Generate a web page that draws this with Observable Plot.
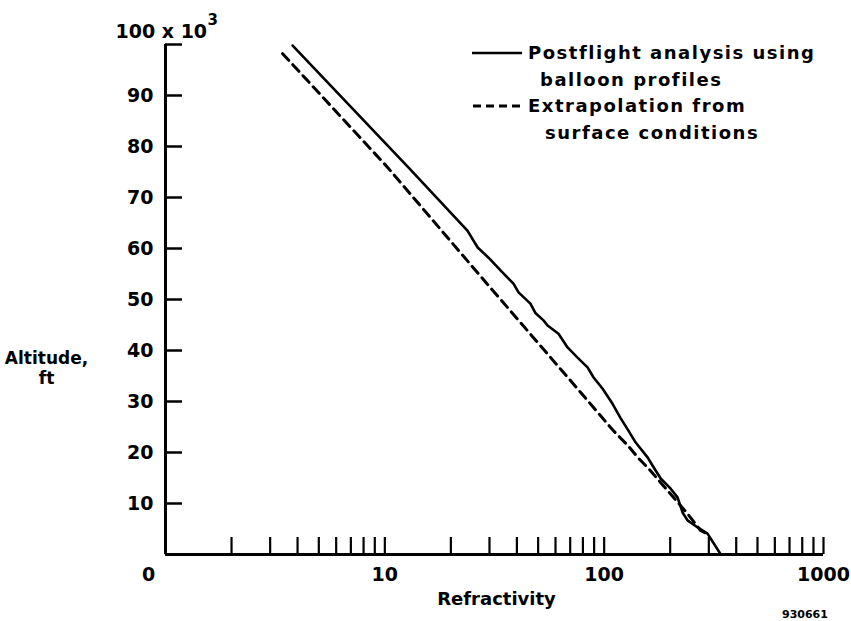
<!DOCTYPE html>
<html>
<head>
<meta charset="utf-8">
<script src="https://cdn.jsdelivr.net/npm/d3@7"></script>
<script src="https://cdn.jsdelivr.net/npm/@observablehq/plot@0.6"></script>
<style>
  html, body { margin: 0; padding: 0; background: #fff; }
  #wrap { position: relative; width: 851px; height: 621px; overflow: hidden; font-family: "DejaVu Sans", sans-serif; font-weight: bold; color: #000; }
  #legend { position: absolute; left: 470px; top: 40px; font-size: 18px; letter-spacing: 1.5px; line-height: 26.5px; }
  #legend .row { display: flex; align-items: center; height: 26.5px; white-space: nowrap; }
  #legend svg { margin-right: 4px; }
  #legend .ind1 { padding-left: 70px; }
  #legend .ind2 { padding-left: 75px; }
  #code { position: absolute; left: 782px; top: 608px; font-size: 11px; }
</style>
</head>
<body>
<div id="wrap"></div>
<script>
// Refractivity (x, log) vs Altitude (x 10^3 ft)
const solidRefractivity = [3.8, 12.8, 23.8, 26.5, 29.7, 33.7, 38.6, 40.7, 46.1, 48.7, 52.9, 55.2, 61.9, 68.1, 75.6, 84.0, 89.5, 98.4, 109, 119, 129, 139, 158, 168, 181, 201, 216, 228, 240, 267, 296, 338];
const solidAltitude     = [99.8, 75.9, 63.5, 60.2, 58.2, 55.7, 53.1, 51.4, 49.2, 47.3, 45.9, 44.9, 43.3, 40.6, 38.6, 36.7, 34.7, 32.5, 29.6, 26.7, 24.3, 22.0, 19.0, 17.1, 14.9, 12.9, 11.2, 8.2, 6.7, 5.3, 4.1, 0.2];

const dashRefractivity = [3.42, 10.3, 27.9, 75.6, 110, 128, 144, 159, 240, 275, 296];
const dashAltitude     = [98.2, 75.9, 54.1, 32.5, 24.3, 21.4, 18.8, 16.9, 8.0, 4.7, 4.0];

const yTicks = [10, 20, 30, 40, 50, 60, 70, 80, 90, 100];
const yTickLabels = ["10", "20", "30", "40", "50", "60", "70", "80", "90"];
const xTicks = [2, 3, 4, 5, 6, 7, 8, 9, 10, 20, 30, 40, 50, 60, 70, 80, 90, 100, 200, 300, 400, 500, 600, 700, 800, 900, 1000];
const xLabelValues = [10, 100, 1000];
const xLabelTexts = ["10", "100", "1000"];
const xFirstLabel = "0";

const solid = solidRefractivity.map((v, i) => ({ v, a: solidAltitude[i] }));
const dashed = dashRefractivity.map((v, i) => ({ v, a: dashAltitude[i] }));
const yLabels = yTickLabels.map(t => ({ y: +t, t }));
const xLabels = xLabelValues.map((v, i) => ({ v, t: xLabelTexts[i] }));

const W = 851, H = 621;
const mL = 165, mR = 28, mT = 44, mB = 67;
const frameW = W - mL - mR, frameH = H - mT - mB;
const tickLen = 17;

const chart = Plot.plot({
  width: W, height: H,
  marginLeft: mL, marginRight: mR, marginTop: mT, marginBottom: mB,
  style: { fontFamily: "DejaVu Sans, sans-serif", fontWeight: "bold", color: "#000", background: "#fff", overflow: "visible" },
  x: { type: "log", domain: [1, 1000], axis: null },
  y: { domain: [0, 100], axis: null },
  marks: [
    // axes lines
    Plot.ruleY([0], { stroke: "#000", strokeWidth: 3 }),
    Plot.ruleX([1], { y1: 0, y2: 100, stroke: "#000", strokeWidth: 3 }),
    // y ticks pointing inward
    Plot.tickY(yTicks, { y: d => d, insetRight: frameW - tickLen, stroke: "#000", strokeWidth: 2.5 }),
    // x ticks pointing up
    Plot.tickX(xTicks, { x: d => d, insetTop: frameH - tickLen, stroke: "#000", strokeWidth: 2.2 }),
    // y tick labels
    Plot.text(yLabels, { x: 1, y: "y", text: "t", textAnchor: "end", dx: -12, fontSize: 19, fontWeight: "bold" }),
    // x tick labels
    Plot.text(xLabels, { x: "v", y: 0, text: "t", dy: 20, fontSize: 19, fontWeight: "bold" }),
    Plot.text([xFirstLabel], { x: 1, y: 0, text: d => d, dx: -17, dy: 20, fontSize: 19, fontWeight: "bold" }),
    // top unit label
    Plot.text(["100 x 10"], { x: 1, y: 100, text: d => d, textAnchor: "start", dx: -50, dy: -13, fontSize: 19, fontWeight: "bold" }),
    Plot.text(["3"], { x: 1, y: 100, text: d => d, textAnchor: "start", dx: 42, dy: -24, fontSize: 15, fontWeight: "bold" }),
    // axis titles
    Plot.text(["Refractivity"], { frameAnchor: "bottom", text: d => d, dx: 2, dy: 50, fontSize: 18, fontWeight: "bold" }),
    Plot.text(["Altitude,\nft"], { frameAnchor: "left", text: d => d, textAnchor: "middle", dx: -119, dy: 68, fontSize: 17, lineHeight: 1.15, fontWeight: "bold" }),
    // data
    Plot.line(dashed, { x: "v", y: "a", stroke: "#000", strokeWidth: 3, strokeDasharray: "9,6" }),
    Plot.line(solid, { x: "v", y: "a", stroke: "#000", strokeWidth: 2.6 })
  ]
});

const wrap = document.getElementById("wrap");
wrap.appendChild(chart);

const legend = document.createElement("div");
legend.id = "legend";
legend.innerHTML = `
  <div class="row"><svg width="54" height="10"><line x1="2" x2="52" y1="5" y2="5" stroke="#000" stroke-width="2.5"/></svg><span>Postflight analysis using</span></div>
  <div class="row ind1"><span>balloon profiles</span></div>
  <div class="row"><svg width="54" height="10"><line x1="3" x2="52" y1="5" y2="5" stroke="#000" stroke-width="3" stroke-dasharray="8,5"/></svg><span>Extrapolation from</span></div>
  <div class="row ind2"><span>surface conditions</span></div>`;
wrap.appendChild(legend);

const code = document.createElement("div");
code.id = "code";
code.textContent = "930661";
wrap.appendChild(code);
</script>
</body>
</html>
